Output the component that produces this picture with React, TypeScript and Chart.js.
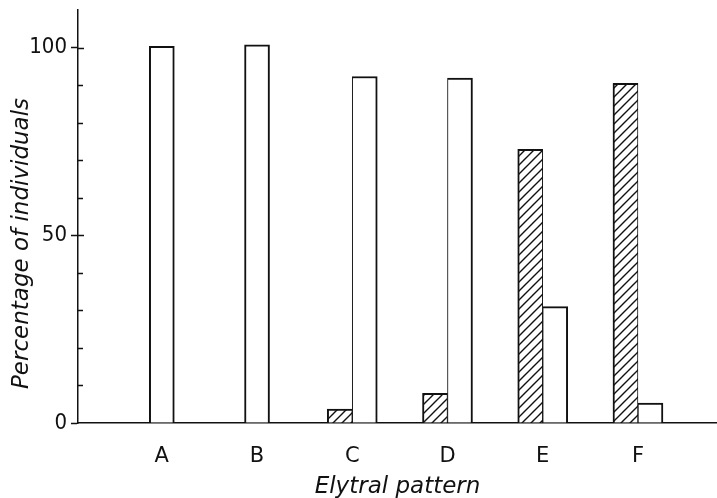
import React, { useEffect, useRef } from 'react';
import { Chart, registerables } from 'chart.js';

Chart.register(...registerables);

const categories = ['A', 'B', 'C', 'D', 'E', 'F'];
const hatchedValues: (number | null)[] = [null, null, 3.7, 7.9, 72.9, 90.5];
const openValues: number[] = [100.3, 100.7, 92.3, 91.9, 31.0, 5.3];
const yLabelTicks = [0, 50, 100];
const yMinorTicks = [10, 20, 30, 40, 60, 70, 80, 90];
const yAxisTitle = 'Percentage of individuals';
const xAxisTitle = 'Elytral pattern';

const FONT = '"DejaVu Sans", "Noto Sans", sans-serif';
const DIGIT_FONT = '"Liberation Sans Narrow", "DejaVu Sans Condensed", Lato, sans-serif';
const INK = '#111';

function makeHatch(ctx: CanvasRenderingContext2D) {
  const s = 9;
  const c = document.createElement('canvas');
  c.width = s;
  c.height = s;
  const g = c.getContext('2d')!;
  g.fillStyle = '#fff';
  g.fillRect(0, 0, s, s);
  g.strokeStyle = INK;
  g.lineWidth = 1.4;
  g.beginPath();
  g.moveTo(-1, s + 1);
  g.lineTo(s + 1, -1);
  g.moveTo(-1, 1);
  g.lineTo(1, -1);
  g.moveTo(s - 1, s + 1);
  g.lineTo(s + 1, s - 1);
  g.stroke();
  return ctx.createPattern(c, 'repeat');
}

const axisExtras = {
  id: 'axisExtras',
  afterDraw(chart: any) {
    const { ctx, chartArea, scales } = chart;
    const y = scales.y;
    ctx.save();
    ctx.strokeStyle = INK;
    ctx.lineWidth = 1.5;
    ctx.beginPath();
    yMinorTicks.forEach((v) => {
      const py = Math.round(y.getPixelForValue(v)) + 0.5;
      ctx.moveTo(chartArea.left, py);
      ctx.lineTo(chartArea.left + 5, py);
    });
    yLabelTicks
      .filter((v) => v > 0)
      .forEach((v) => {
        const py = Math.round(y.getPixelForValue(v)) + 0.5;
        ctx.moveTo(chartArea.left, py);
        ctx.lineTo(chartArea.left + 6, py);
      });
    ctx.stroke();
    ctx.translate(chartArea.left - 56, (chartArea.top + chartArea.bottom) / 2 + 27);
    ctx.rotate(-Math.PI / 2);
    ctx.font = `oblique 23px ${FONT}`;
    ctx.fillStyle = INK;
    ctx.textAlign = 'center';
    ctx.textBaseline = 'middle';
    ctx.fillText(yAxisTitle, 0, 0);
    ctx.restore();
  },
};

export default function App() {
  const canvasRef = useRef<HTMLCanvasElement | null>(null);

  useEffect(() => {
    const canvas = canvasRef.current;
    if (!canvas) return;
    const ctx = canvas.getContext('2d')!;
    const hatch = makeHatch(ctx);

    const chart = new Chart(canvas, {
      type: 'bar',
      data: {
        datasets: [
          {
            label: 'hatched',
            data: hatchedValues.map((v, i) => ({ x: i, y: v })),
            backgroundColor: hatch as any,
            borderColor: INK,
            borderWidth: { top: 2, left: 2, right: 1, bottom: 0 },
            barThickness: 25,
            skipNull: true,
          } as any,
          {
            label: 'open',
            data: openValues.map((v, i) => ({ x: i, y: v })),
            backgroundColor: '#fff',
            borderColor: INK,
            borderWidth: (c: any) => ({
              top: 2,
              right: 2,
              bottom: 0,
              left: hatchedValues[c.dataIndex] == null ? 2 : 1,
            }),
            barThickness: 25,
            skipNull: true,
          } as any,
        ],
      },
      options: {
        animation: false,
        responsive: false,
        devicePixelRatio: 1,
        layout: { padding: { top: 10, left: 0, right: 0, bottom: 0 } },
        plugins: {
          legend: { display: false },
          tooltip: { enabled: false },
        },
        scales: {
          x: {
            type: 'linear',
            min: -0.88,
            max: 5.83,
            offset: false,
            afterBuildTicks: (s: any) => {
              s.ticks = categories.map((_, i) => ({ value: i }));
            },
            afterFit: (s: any) => {
              s.height = 75;
              s.paddingLeft = 0;
              s.paddingRight = 0;
            },
            grid: { display: false },
            border: { display: true, color: INK, width: 1.5 },
            ticks: {
              callback: (v: any) => categories[v as number],
              color: INK,
              font: { family: FONT, size: 21 },
              padding: 13,
              maxRotation: 0,
              autoSkip: false,
            },
            title: {
              display: true,
              text: xAxisTitle,
              color: INK,
              font: { family: FONT, size: 23, style: 'oblique' },
              padding: { top: 0, bottom: -3 },
            },
          },
          y: {
            type: 'linear',
            min: 0,
            max: 110,
            afterBuildTicks: (s: any) => {
              s.ticks = yLabelTicks.map((v) => ({ value: v }));
            },
            afterFit: (s: any) => {
              s.width = 78;
              s.paddingTop = 0;
              s.paddingBottom = 0;
            },
            grid: {
              drawOnChartArea: false,
              drawTicks: true,
              tickLength: 7,
              color: INK,
              tickColor: INK,
              tickWidth: 1.5,
            },
            border: { display: true, color: INK, width: 1.5 },
            ticks: {
              color: INK,
              font: { family: DIGIT_FONT, size: 22 },
              padding: 4,
            },
            title: { display: false },
          },
        },
      } as any,
      plugins: [axisExtras],
    });

    return () => chart.destroy();
  }, []);

  return (
    <div style={{ position: 'absolute', left: 0, top: 0, width: 717, height: 498, background: '#fff' }}>
      <canvas ref={canvasRef} width={717} height={498} style={{ display: 'block' }} />
    </div>
  );
}
